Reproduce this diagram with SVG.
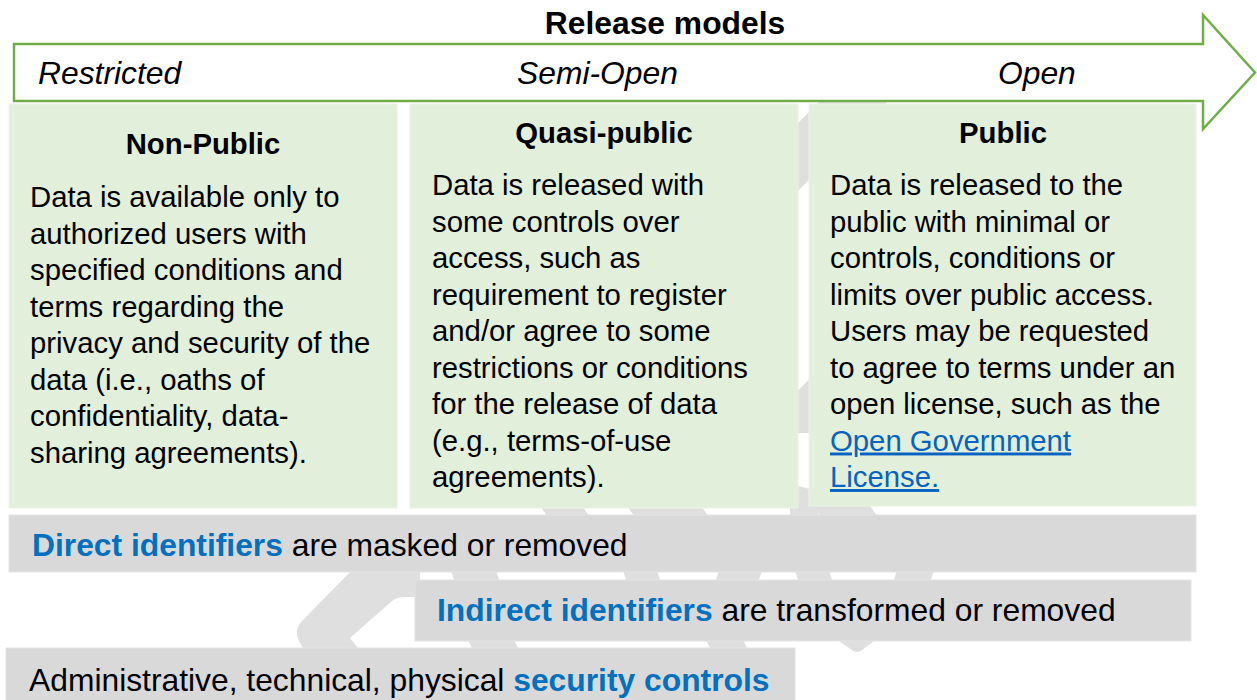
<svg xmlns="http://www.w3.org/2000/svg" width="1257" height="700" viewBox="0 0 1257 700">
  <style>
    text { font-family: "Liberation Sans", Arial, sans-serif; fill: #000; }
    .title { font-size: 31.8px; font-weight: bold; text-anchor: middle; }
    .stage { font-size: 31.8px; font-style: italic; }
    .head { font-size: 29.3px; font-weight: bold; text-anchor: middle; }
    .body { font-size: 29.3px; }
    .band { font-size: 31.8px; }
    .key { font-weight: bold; fill: #0070c0; }
    .link { fill: #0563c1; text-decoration: underline; }
    .card { fill: #e2efda; stroke: #ebf4e5; stroke-width: 1; }
    .strip { fill: #d9d9d9; stroke: #e4e4e4; stroke-width: 1; }
    .mark { fill: #dfdfdf; }
  </style>

  <rect width="1257" height="700" fill="#ffffff"/>

  <!-- faint background emblem, mostly hidden behind the cards and strips -->
  <g id="emblem">
    <path class="mark" d="M362,560 L302,621 Q293,631 300,643 L305,652 L361,652 L350,638 L392,601 Q397,597 406,597 L420,597 L420,560 Z"/>
    <path class="mark" d="M790,131 L820,101 L888,101 L790,199 Z"/>
    <path class="mark" d="M790,398 L818,371 L818,433 L790,433 Z"/>
    <path class="mark" d="M790,484 L818,491 L818,520 L790,520 Z"/>
    <path class="mark" d="M538,503 L580,503 L592,520 L550,520 Z"/>
    <path class="mark" d="M625,503 L699,503 L711,520 L637,520 Z"/>
    <path class="mark" d="M811,503 L868,503 L880,520 L823,520 Z"/>
    <path class="mark" d="M449,565 L494,565 L502,588 L457,588 Z"/>
    <path class="mark" d="M621,565 L655,565 L663,588 L629,588 Z"/>
    <path class="mark" d="M721,565 L764,565 L756,588 L713,588 Z"/>
    <path class="mark" d="M793,565 L827,565 L835,588 L801,588 Z"/>
    <path class="mark" d="M899,565 L936,565 L928,588 L891,588 Z"/>
    <path class="mark" d="M466,636 L512,636 L520,652 L474,652 Z"/>
    <path class="mark" d="M704,636 L741,636 L749,652 L712,652 Z"/>
    <path class="mark" d="M835,636 L876,636 L874,641 L862,650 Q857,654 852,650 L839,641 Z"/>
  </g>

  <!-- title and the restricted-to-open scale -->
  <g id="title">
    <text class="title" x="665" y="34">Release models</text>
  </g>
  <g id="scale-arrow">
    <path d="M14,44 L1203,44 L1203,15 L1255,72.5 L1203,129 L1203,101 L14,101 Z" fill="#ffffff" stroke="#70ad47" stroke-width="2.5" stroke-linejoin="miter"/>
    <text class="stage" x="38" y="84">Restricted</text>
    <text class="stage" x="517" y="84">Semi-Open</text>
    <text class="stage" x="998" y="84">Open</text>
  </g>

  <!-- release model cards -->
  <g id="non-public">
    <rect class="card" x="9" y="104" width="388" height="404"/>
    <text class="head" x="203" y="154">Non-Public</text>
    <text class="body" x="30" y="207">Data is available only to</text>
    <text class="body" x="30" y="243.5">authorized users with</text>
    <text class="body" x="30" y="280">specified conditions and</text>
    <text class="body" x="30" y="316.5">terms regarding the</text>
    <text class="body" x="30" y="353">privacy and security of the</text>
    <text class="body" x="30" y="389.5">data (i.e., oaths of</text>
    <text class="body" x="30" y="426">confidentiality, data-</text>
    <text class="body" x="30" y="462.5">sharing agreements).</text>
  </g>

  <g id="quasi-public">
    <rect class="card" x="410" y="104" width="388" height="404"/>
    <text class="head" x="604" y="143">Quasi-public</text>
    <text class="body" x="432" y="195">Data is released with</text>
    <text class="body" x="432" y="231.5">some controls over</text>
    <text class="body" x="432" y="268">access, such as</text>
    <text class="body" x="432" y="304.5">requirement to register</text>
    <text class="body" x="432" y="341">and/or agree to some</text>
    <text class="body" x="432" y="377.5">restrictions or conditions</text>
    <text class="body" x="432" y="414">for the release of data</text>
    <text class="body" x="432" y="450.5">(e.g., terms-of-use</text>
    <text class="body" x="432" y="487">agreements).</text>
  </g>

  <g id="public">
    <rect class="card" x="809" y="104" width="387" height="402"/>
    <text class="head" x="1003" y="143">Public</text>
    <text class="body" x="830" y="195">Data is released to the</text>
    <text class="body" x="830" y="231.5">public with minimal or</text>
    <text class="body" x="830" y="268">controls, conditions or</text>
    <text class="body" x="830" y="304.5">limits over public access.</text>
    <text class="body" x="830" y="341">Users may be requested</text>
    <text class="body" x="830" y="377.5">to agree to terms under an</text>
    <text class="body" x="830" y="414">open license, such as the</text>
    <text class="body link" x="830" y="450.5">Open Government</text>
    <text class="body link" x="830" y="487">License.</text>
  </g>

  <!-- protection layers -->
  <g id="direct-identifiers">
    <rect class="strip" x="9" y="515" width="1187" height="57"/>
    <text class="band" x="32" y="556"><tspan class="key">Direct identifiers</tspan> are masked or removed</text>
  </g>

  <g id="indirect-identifiers">
    <rect class="strip" x="415" y="580" width="776" height="61"/>
    <text class="band" x="437" y="621"><tspan class="key">Indirect identifiers</tspan> are transformed or removed</text>
  </g>

  <g id="security-controls">
    <rect class="strip" x="6" y="648" width="789" height="56"/>
    <text class="band" x="29" y="691">Administrative, technical, physical <tspan class="key">security controls</tspan></text>
  </g>
</svg>
